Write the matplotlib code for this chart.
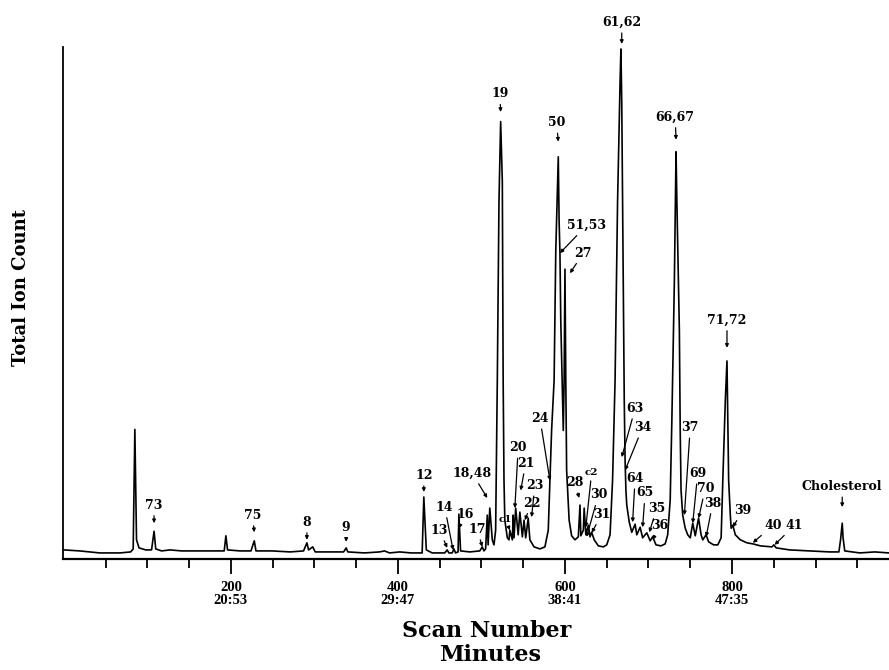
import matplotlib
matplotlib.use("Agg")
import matplotlib.pyplot as plt

# total ion current trace (scan number, relative intensity)
scan = [0, 19, 43, 67, 80, 83, 85, 87, 90, 98, 105, 108, 110, 117, 127, 141, 163, 182, 192, 194,
        196, 211, 224, 228, 230, 249, 271, 287, 291, 293, 298, 301, 319, 335, 338, 340, 360, 378,
        384, 390, 402, 416, 429, 431, 434, 441, 456, 459, 461, 465, 467, 469, 472, 473, 475, 486,
        498, 501, 503, 505, 507, 508, 510, 513, 515, 517, 519, 521, 523, 525, 526, 527, 528, 531,
        533, 534, 537, 538, 539, 541, 544, 546, 549, 551, 553, 556, 558, 563, 570, 576, 580, 582,
        584, 587, 589, 592, 593, 594, 595, 598, 599, 600, 601, 602, 605, 608, 612, 616, 618, 619,
        622, 623, 625, 628, 630, 632, 635, 640, 646, 650, 654, 657, 660, 663, 666, 667, 668, 670,
        671, 672, 673, 674, 677, 680, 684, 686, 690, 693, 698, 702, 705, 709, 715, 720, 723, 726,
        728, 731, 733, 734, 737, 738, 739, 741, 744, 747, 750, 753, 756, 760, 763, 765, 769, 772,
        778, 783, 787, 789, 792, 794, 795, 796, 798, 799, 801, 804, 810, 818, 825, 834, 848, 850,
        853, 869, 893, 917, 928, 930, 932, 933, 935, 953, 971, 988]
tic = [0.6, 0.4, 0.0, 0.0, 0.2, 0.8, 24.5, 2.6, 1.0, 0.6, 0.6, 4.3, 0.8, 0.4, 0.6, 0.4, 0.4, 0.4, 0.4, 3.4,
       0.6, 0.4, 0.4, 2.4, 0.4, 0.4, 0.2, 0.4, 2.0, 0.6, 1.2, 0.2, 0.2, 0.2, 1.0, 0.2, 0.0, 0.2,
       0.4, 0.0, 0.2, 0.0, 0.0, 11.1, 0.6, 0.0, 0.0, 0.6, 0.0, 0.0, 0.8, 0.0, 0.2, 7.7, 0.4, 0.2,
       0.4, 1.2, 0.4, 0.8, 7.5, 1.6, 8.9, 2.6, 1.6, 4.5, 34.2, 69.8, 85.6, 73.7, 34.2, 14.4, 6.5, 3.0,
       2.6, 4.5, 2.6, 7.5, 3.0, 8.9, 3.6, 8.1, 3.2, 6.5, 3.0, 6.9, 2.6, 1.2, 0.8, 1.2, 4.5, 14.4,
       24.3, 34.2, 59.9, 78.6, 65.8, 59.5, 46.0, 24.3, 34.2, 56.3, 34.2, 16.4, 6.5, 3.4, 2.6, 3.2, 9.5, 3.4,
       4.5, 8.9, 3.6, 5.5, 3.2, 4.1, 2.6, 1.4, 1.2, 1.6, 3.6, 14.4, 34.2, 69.8, 93.5, 100.0, 89.5, 50.0,
       30.2, 18.4, 12.4, 9.5, 6.1, 4.1, 5.7, 3.6, 5.1, 3.0, 4.0, 2.4, 3.2, 1.6, 1.4, 1.8, 3.6, 10.5,
       26.3, 53.9, 79.6, 69.8, 44.1, 24.3, 12.4, 7.5, 4.9, 3.6, 3.0, 5.9, 3.4, 6.9, 3.6, 2.6, 3.6, 2.2,
       1.6, 1.6, 3.0, 14.4, 30.2, 38.1, 26.3, 14.4, 7.5, 4.9, 5.5, 3.6, 2.6, 2.0, 1.8, 1.4, 1.2, 1.6,
       1.0, 0.6, 0.4, 0.2, 0.2, 2.6, 5.9, 3.0, 0.4, 0.0, 0.2, 0.0]

# peak labels: text, arrow tip (scan, intensity), label centre (scan, intensity)
labels = [
    ("73", 108, 5.9, 108, 9.5), ("75", 228, 4.1, 226, 7.5), ("8", 291, 2.6, 291, 6.1),
    ("9", 338, 2.2, 338, 5.1), ("12", 431, 12.1, 431, 15.4), ("13", 459, 1.0, 450, 4.5),
    ("14", 466, 0.6, 456, 9.1), ("16", 473, 4.9, 480, 7.7), ("17", 501, 1.2, 495, 4.7),
    ("18,48", 507, 10.9, 489, 15.8), ("19", 523, 87.5, 522, 91.1), ("50", 592, 81.6, 590, 85.4),
    ("51,53", 594, 59.5, 626, 65.0), ("27", 606, 55.5, 622, 59.5), ("24", 582, 14.4, 570, 26.7),
    ("20", 540, 8.9, 544, 20.9), ("21", 547, 12.4, 553, 17.8), ("23", 560, 7.1, 564, 13.4),
    ("22", 552, 6.5, 560, 9.9), ("c1", 534, 4.5, 529, 6.7), ("28", 617, 10.9, 612, 14.0),
    ("c2", 625, 5.1, 632, 16.0), ("30", 626, 3.2, 640, 11.5), ("31", 632, 4.0, 644, 7.7),
    ("61,62", 668, 101.0, 668, 105.3), ("63", 668, 19.0, 684, 28.7), ("34", 672, 16.4, 693, 24.9),
    ("64", 681, 6.1, 684, 14.8), ("65", 693, 5.1, 696, 11.9), ("35", 701, 4.1, 710, 8.9),
    ("36", 705, 2.6, 714, 5.5), ("66,67", 733, 82.0, 732, 86.5), ("37", 743, 7.5, 750, 24.9),
    ("69", 753, 5.9, 759, 15.8), ("70", 760, 6.9, 768, 12.8), ("38", 769, 3.2, 777, 9.9),
    ("71,72", 794, 40.7, 794, 46.2), ("39", 801, 5.1, 813, 8.5), ("40", 825, 2.0, 849, 5.5),
    ("41", 851, 1.6, 875, 5.5), ("Cholesterol", 932, 9.1, 932, 13.2),
]

major_ticks = [200, 400, 600, 800]
major_labels = ["200\n20:53", "400\n29:47", "600\n38:41", "800\n47:35"]
minor_ticks = [50, 100, 150, 250, 300, 350, 450, 500, 550, 650, 700, 750, 850, 900, 950]

fig = plt.figure(figsize=(8.89, 6.70), dpi=100)
ax = fig.add_axes([0.0709, 0.1657, 0.9291, 0.7642])

ax.plot(scan, tic, color="black", lw=1.2)

for txt, tx, ty, lx, ly in labels:
    fs = 7.5 if txt in ("c1", "c2") else 9
    ax.annotate(txt, xy=(tx, ty), xytext=(lx, ly), ha="center", va="center",
                fontsize=fs, fontweight="bold", family="DejaVu Serif",
                annotation_clip=False,
                arrowprops=dict(arrowstyle="-|>", color="black", lw=0.9,
                                mutation_scale=5, shrinkA=1, shrinkB=0))

ax.set_xlim(-1, 988)
ax.set_ylim(-1.2, 100.4)
for s in ["top", "right"]:
    ax.spines[s].set_visible(False)
ax.spines["bottom"].set_linewidth(1.6)
ax.spines["left"].set_linewidth(1.3)
ax.set_yticks([])
ax.set_xticks(major_ticks, major_labels)
ax.set_xticks(minor_ticks, minor=True)
ax.tick_params(axis="x", which="major", length=11, width=1.3, pad=5)
ax.tick_params(axis="x", which="minor", length=6.5, width=1.3)
for lab in ax.get_xticklabels():
    lab.set_family("Liberation Serif")
    lab.set_fontweight("bold")
    lab.set_fontsize(10.5)
    lab.set_linespacing(1.0)

fig.text(487 / 889, 1 - 631 / 670, "Scan Number", ha="center", va="center",
         fontsize=16, fontweight="bold", family="DejaVu Serif")
fig.text(490 / 889, 1 - 655 / 670, "Minutes", ha="center", va="center",
         fontsize=16, fontweight="bold", family="DejaVu Serif")
fig.text(21 / 889, 1 - 288 / 670, "Total Ion Count", ha="center", va="center",
         rotation=90, fontsize=13, fontweight="bold", family="DejaVu Serif")

fig.savefig("out.png", dpi=100)
